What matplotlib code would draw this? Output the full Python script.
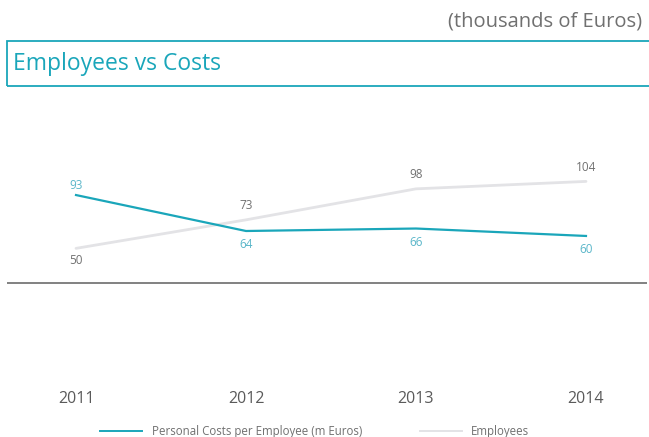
import matplotlib
matplotlib.use("Agg")
import matplotlib.pyplot as plt
from matplotlib.patches import Rectangle
from matplotlib.lines import Line2D

years = [2011, 2012, 2013, 2014]
costs = [93, 64, 66, 60]
employees = [50, 73, 98, 104]
cost_label_pos = ["above", "below", "below", "below"]
emp_label_pos = ["below", "above", "above", "above"]

TEAL = "#1aa6ba"
TEAL_TXT = "#5ab6c9"
GREY_LINE = "#e3e3e6"
GREY_TXT = "#707070"

plt.rcParams['font.family'] = ['Open Sans', 'DejaVu Sans']

W, H = 649, 437
fig = plt.figure(figsize=(W / 100, H / 100), dpi=100)

def fx(px):
    return px / W

def fy(py):
    return 1 - py / H

# axes area in pixels
ax_left, ax_right, ax_top, ax_bottom = 7, 647, 140, 383
ax = fig.add_axes([fx(ax_left), fy(ax_bottom), fx(ax_right - ax_left), (ax_bottom - ax_top) / H])
ax.set_xlim(2010.594, 2014.359)
ax.set_ylim(-58.6, 137.4)
for s in ax.spines.values():
    s.set_visible(False)
ax.set_yticks([])
ax.set_xticks(years)
ax.set_xticklabels([str(y) for y in years], fontsize=11.5, color="#5a5a5a")
ax.tick_params(axis='x', length=0, pad=6)

ax.axhline(22, color="#777777", lw=1.3)

ax.plot(years, employees, color=GREY_LINE, lw=2, solid_capstyle='round')
ax.plot(years, costs, color=TEAL, lw=1.6)

for x, v, p in zip(years, costs, cost_label_pos):
    off = 7 if p == "above" else -10
    ax.annotate(str(v), (x, v), xytext=(0, off), textcoords="offset points",
                ha="center", va="center", fontsize=8.5, color=TEAL_TXT)
for x, v, p in zip(years, employees, emp_label_pos):
    off = 10 if p == "above" else -9
    ax.annotate(str(v), (x, v), xytext=(0, off), textcoords="offset points",
                ha="center", va="center", fontsize=8.5, color=GREY_TXT)

# header
fig.text(fx(642), fy(22), "(thousands of Euros)", ha="right", va="center",
         fontsize=14.5, color="#707070")
fig.patches.append(Rectangle((fx(7), fy(86)), fx(660 - 7), (86 - 41) / H,
                             transform=fig.transFigure, fill=False,
                             edgecolor=TEAL, lw=1.3))
fig.text(fx(13), fy(64), "Employees vs Costs", ha="left", va="center",
         fontsize=16.5, color=TEAL)

# legend
fig.add_artist(Line2D([fx(100), fx(142)], [fy(431), fy(431)], color=TEAL, lw=1.4,
                      transform=fig.transFigure))
fig.text(fx(152), fy(431), "Personal Costs per Employee (m Euros)", ha="left",
         va="center", fontsize=8.3, color="#707070")
fig.add_artist(Line2D([fx(420), fx(462)], [fy(431), fy(431)], color=GREY_LINE, lw=1.4,
                      transform=fig.transFigure))
fig.text(fx(471), fy(431), "Employees", ha="left", va="center", fontsize=8.3,
         color="#707070")

fig.savefig("out.png", dpi=100)
